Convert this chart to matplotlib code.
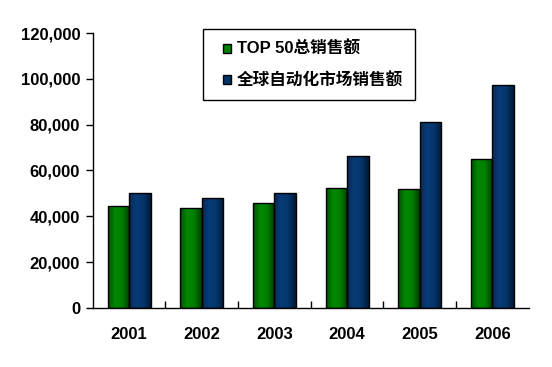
import numpy as np
import matplotlib
matplotlib.use("Agg")
import matplotlib.pyplot as plt
from matplotlib.colors import LinearSegmentedColormap
from matplotlib.ticker import FuncFormatter
from matplotlib.patches import Rectangle
from matplotlib.legend_handler import HandlerPatch

plt.rcParams['font.family'] = ['Liberation Sans', 'Noto Sans CJK SC', 'DejaVu Sans']
plt.rcParams['font.weight'] = 'bold'

years = ['2001', '2002', '2003', '2004', '2005', '2006']
top50 = [44500, 43600, 45800, 52400, 51900, 65000]
world = [50300, 48000, 50300, 66500, 81200, 97300]
labels = ['TOP 50总销售额', '全球自动化市场销售额']

fig = plt.figure(figsize=(5.52, 3.67), dpi=100)
ax = fig.add_axes([0.168, 0.161, 0.79, 0.749])

x = np.arange(len(years))
w = 0.295
b1 = ax.bar(x - w / 2, top50, w, color='#008000', edgecolor='black', linewidth=1)
b2 = ax.bar(x + w / 2, world, w, color='#003366', edgecolor='black', linewidth=1)

# horizontal shading inside the bars
cm_g = LinearSegmentedColormap.from_list('g', ['#005000', '#008a00', '#007c00', '#003a00'])
cm_b = LinearSegmentedColormap.from_list('b', ['#0a2a55', '#073c78', '#06346a', '#001a38'])
grad = np.linspace(0, 1, 64).reshape(1, -1)
for bars, cm in ((b1, cm_g), (b2, cm_b)):
    for p in bars:
        x0, y0 = p.get_x(), p.get_y()
        im = ax.imshow(grad, cmap=cm, aspect='auto', interpolation='bilinear',
                       extent=(x0, x0 + p.get_width(), y0, y0 + p.get_height()), zorder=p.get_zorder())
        im.set_clip_path(p)
        p.set_facecolor('none')
        p.set_zorder(p.get_zorder() + 0.1)

ax.set_xlim(-0.5, len(years) - 0.5)
ax.set_ylim(0, 120000)
ax.set_yticks(np.arange(0, 120001, 20000))
ax.yaxis.set_major_formatter(FuncFormatter(lambda v, _: f'{int(v):,}'))
ax.set_xticks(x)
ax.set_xticklabels(years)
ax.set_xticks(np.arange(0.5, len(years) - 0.5, 1), minor=True)
ax.tick_params(axis='x', which='major', length=0, pad=14, labelsize=12)
ax.tick_params(axis='x', which='minor', direction='in', length=5, width=1)
ax.tick_params(axis='y', direction='out', length=5, width=1, labelsize=12, pad=4)
for s in ('top', 'right'):
    ax.spines[s].set_visible(False)
for s in ('left', 'bottom'):
    ax.spines[s].set_linewidth(1)


def small_square(legend, orig_handle, xdescent, ydescent, width, height, fontsize):
    s = 0.5 * fontsize
    return Rectangle((-xdescent + width - s, -ydescent + (height - s) / 2), s, s)


handles = [Rectangle((0, 0), 1, 1, facecolor='#008000', edgecolor='black', linewidth=1),
           Rectangle((0, 0), 1, 1, facecolor='#003366', edgecolor='black', linewidth=1)]
leg = ax.legend(handles, labels, loc='upper left', bbox_to_anchor=(0.253, 1.013), fancybox=False,
                framealpha=1, edgecolor='black', fontsize=12, handlelength=1.0, handleheight=0.6,
                handletextpad=0.35, labelspacing=0.9, borderpad=0.7, borderaxespad=0,
                handler_map={Rectangle: HandlerPatch(patch_func=small_square)})
leg.get_frame().set_linewidth(1)

fig.savefig('out.png', dpi=100)
